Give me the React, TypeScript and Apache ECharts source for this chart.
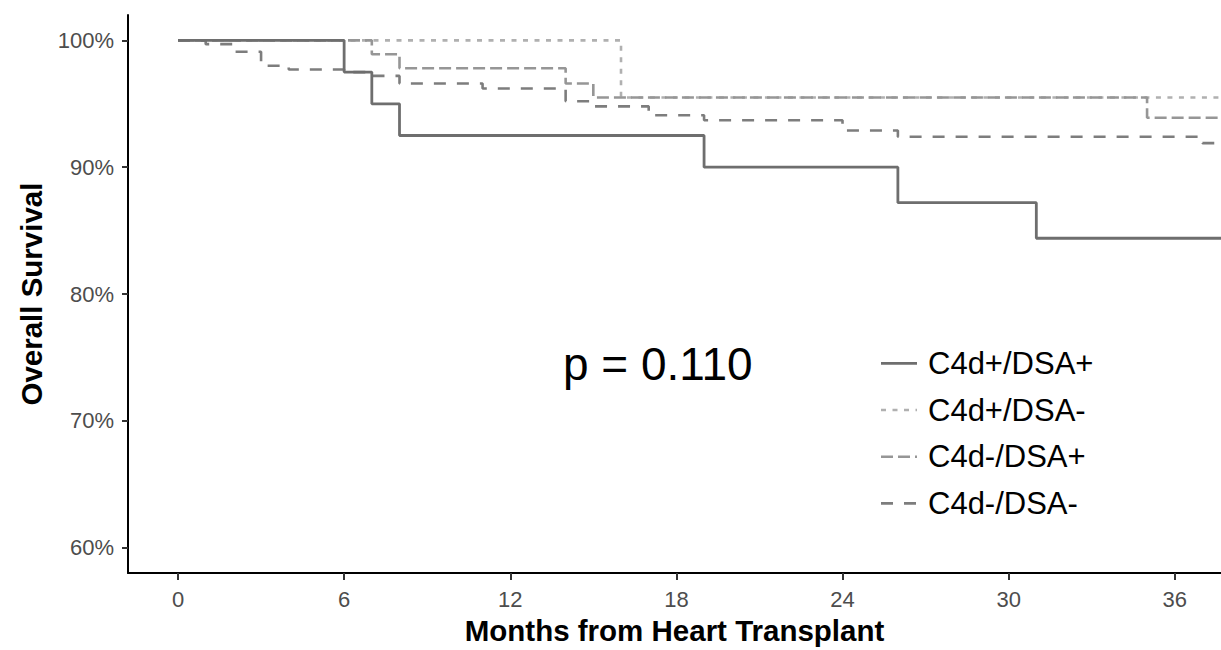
import React, { useEffect, useRef } from "react";
import * as echarts from "echarts";

const seriesNames = ["C4d+/DSA+", "C4d+/DSA-", "C4d-/DSA+", "C4d-/DSA-"];

const posPosMonths = [0, 6, 7, 8, 19, 26, 31, 38];
const posPosSurvival = [100, 97.5, 95, 92.5, 90, 87.2, 84.4, 84.4];

const posNegMonths = [0, 16, 38];
const posNegSurvival = [100, 95.5, 95.5];

const negPosMonths = [0, 7, 8, 14, 15, 35, 38];
const negPosSurvival = [100, 98.9, 97.8, 96.6, 95.5, 93.9, 93.9];

const negNegMonths = [0, 1, 2, 3, 4, 6, 7, 8, 11, 14, 15, 17, 19, 24, 26, 37, 38];
const negNegSurvival = [100, 99.7, 99.1, 98.0, 97.7, 97.5, 97.2, 96.6, 96.2, 95.2, 94.8, 94.1, 93.7, 92.9, 92.4, 91.9, 91.9];

const xTicks = [0, 6, 12, 18, 24, 30, 36];
const yTicks = [60, 70, 80, 90, 100];

const pValueText = "p = 0.110";
const xTitle = "Months from Heart Transplant";
const yTitle = "Overall Survival";

const FONT = "'Liberation Sans', Arial, Helvetica, sans-serif";

const seriesColors = ["#6e6e6e", "#b0b0b0", "#969696", "#7d7d7d"];
const seriesDash: any[] = ["solid", [5, 6.5], [12, 5], [12, 11]];
const seriesWidth = [2.8, 2.6, 2.6, 2.6];

function zip(xs: number[], ys: number[]) {
  return xs.map((x, i) => [x, ys[i]]);
}

export default function App() {
  const ref = useRef<HTMLDivElement>(null);

  useEffect(() => {
    if (!ref.current) return;
    const chart = echarts.init(ref.current, undefined, { renderer: "svg" });

    const mk = (idx: number, data: number[][], z: number) => ({
      name: seriesNames[idx],
      type: "line",
      step: "end",
      data,
      symbol: "none",
      showSymbol: false,
      clip: true,
      z,
      lineStyle: { color: seriesColors[idx], width: seriesWidth[idx], type: seriesDash[idx], cap: "butt" },
      itemStyle: { color: seriesColors[idx] },
      emphasis: { disabled: true },
    });

    const legendX = 881;
    const legendTop = 363.3;
    const legendStep = 46.7;
    const legendGraphics: any[] = [];
    seriesNames.forEach((name, i) => {
      const y = legendTop + i * legendStep;
      const dash = seriesDash[i];
      legendGraphics.push({
        type: "line",
        shape: { x1: legendX, y1: y, x2: legendX + 36, y2: y },
        style: {
          stroke: seriesColors[i],
          lineWidth: seriesWidth[i],
          lineDash: Array.isArray(dash) ? dash : null,
          lineCap: "butt",
        },
      });
      legendGraphics.push({
        type: "text",
        x: 928,
        y,
        style: {
          text: name,
          fontFamily: FONT,
          fontSize: 31,
          fill: "#000",
          textVerticalAlign: "middle",
          verticalAlign: "middle",
          align: "left",
        },
      });
    });

    chart.setOption({
      animation: false,
      backgroundColor: "#ffffff",
      textStyle: { fontFamily: FONT },
      grid: { left: 128, right: 0, top: 15, bottom: 68.5, containLabel: false },
      xAxis: {
        type: "value",
        min: -1.806,
        max: 37.67,
        name: xTitle,
        nameLocation: "middle",
        nameGap: 39,
        nameTextStyle: { fontFamily: FONT, fontSize: 29.5, fontWeight: "bold", color: "#000" },
        splitLine: { show: false },
        axisLine: { show: true, onZero: false, lineStyle: { color: "#000", width: 2 } },
        axisTick: { show: true, length: 7, lineStyle: { color: "#333", width: 2 }, customValues: xTicks },
        axisLabel: {
          show: true,
          margin: 15,
          fontFamily: FONT,
          fontSize: 22,
          color: "#4d4d4d",
          customValues: xTicks,
        },
      },
      yAxis: {
        type: "value",
        min: 58,
        max: 102,
        name: yTitle,
        nameLocation: "middle",
        nameGap: 80,
        nameRotate: 90,
        nameTextStyle: { fontFamily: FONT, fontSize: 29.5, fontWeight: "bold", color: "#000" },
        splitLine: { show: false },
        axisLine: { show: true, onZero: false, lineStyle: { color: "#000", width: 2 } },
        axisTick: { show: true, length: 6, lineStyle: { color: "#333", width: 2 }, customValues: yTicks },
        axisLabel: {
          show: true,
          margin: 14,
          fontFamily: FONT,
          fontSize: 22,
          color: "#4d4d4d",
          customValues: yTicks,
          formatter: (v: number) => `${v}%`,
        },
      },
      graphic: [
        {
          type: "text",
          x: 563,
          y: 364,
          style: {
            text: pValueText,
            fontFamily: FONT,
            fontSize: 46,
            fill: "#000",
            verticalAlign: "middle",
            textVerticalAlign: "middle",
          },
        },
        ...legendGraphics,
      ],
      series: [
        mk(1, zip(posNegMonths, posNegSurvival), 2),
        mk(2, zip(negPosMonths, negPosSurvival), 3),
        mk(3, zip(negNegMonths, negNegSurvival), 4),
        mk(0, zip(posPosMonths, posPosSurvival), 5),
      ],
    });

    return () => chart.dispose();
  }, []);

  return (
    <div
      ref={ref}
      style={{ position: "absolute", left: 0, top: 0, width: 1221, height: 650, background: "#fff" }}
    />
  );
}
